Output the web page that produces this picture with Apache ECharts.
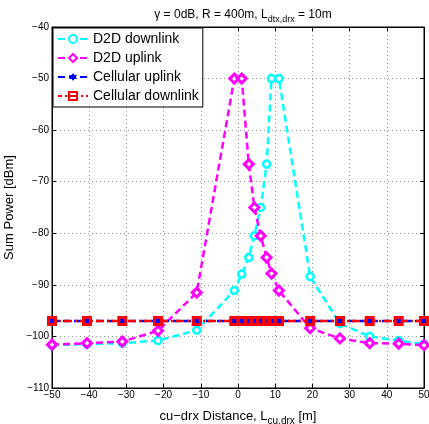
<!DOCTYPE html>
<html>
<head>
<meta charset="utf-8">
<script src="https://cdn.jsdelivr.net/npm/echarts@6/dist/echarts.min.js"></script>
<style>
  html, body { margin: 0; padding: 0; background: #fff; }
  #main { width: 429px; height: 424px; }
</style>
</head>
<body>
<div id="main"></div>
<script>
// distance cu-drx [m]
var xs = [-50, -40.6, -31.1, -21.5, -11.1, -1, 1, 2.9, 4.4, 6.1, 7.7, 9, 11, 19.4, 27.4, 35.4, 43.2, 50];
var d2dDown = [-101.7, -101.5, -101.3, -100.8, -98.8, -91.1, -87.9, -84.7, -80.5, -75, -66.6, -50, -50, -88.4, -97.5, -100, -100.8, -101.5];
var d2dUp = [-101.6, -101.3, -101.0, -98.9, -91.5, -50, -50, -66.6, -75, -80.5, -84.7, -87.8, -91.1, -98.4, -100.4, -101.3, -101.4, -101.7];
var cellUp = [-97, -97, -97, -97, -97, -97, -97, -97, -97, -97, -97, -97, -97, -97, -97, -97, -97, -97];
var cellDown = [-97, -97, -97, -97, -97, -97, -97, -97, -97, -97, -97, -97, -97, -97, -97, -97, -97, -97];
var xTicks = [-50, -40, -30, -20, -10, 0, 10, 20, 30, 40, 50];
var yTicks = [-110, -100, -90, -80, -70, -60, -50, -40];

function pairs(v) {
  var out = [];
  for (var i = 0; i < xs.length; i++) out.push([xs[i], v[i]]);
  return out;
}
function minus(v) { return String(v).replace('-', '\u2212'); }

var star = 'path://M10,0L12.887,5L18.66,5L15.77,10L18.66,15L12.887,15L10,20L7.113,15L1.34,15L4.23,10L1.34,5L7.113,5Z';
var font = 'Liberation Sans, Arial, sans-serif';

var chart = echarts.init(document.getElementById('main'));
var option = {
  animation: false,
  textStyle: { fontFamily: font },
  title: {
    left: 238, textAlign: 'center', top: 1,
    text: '{a|\u03b3 = 0dB, R = 400m, L}{s|dtx,drx}{a| = 10m}',
    textStyle: {
      fontWeight: 'normal',
      rich: {
        a: { fontSize: 12, color: '#000', fontFamily: font, fontWeight: 'normal' },
        s: { fontSize: 9, color: '#000', fontFamily: font, fontWeight: 'normal', padding: [9, 0, 0, 0] }
      }
    }
  },
  grid: { left: 52, right: 5, top: 27, bottom: 36, show: true, borderColor: '#000', borderWidth: 1, outerBoundsMode: 'none', containLabel: false },
  legend: {
    orient: 'vertical', left: 53, top: 28, itemGap: 5, itemWidth: 30, itemHeight: 10,
    backgroundColor: '#fff', borderColor: '#000', borderWidth: 1, borderRadius: 0,
    padding: [4, 4, 4, 4],
    textStyle: { fontSize: 14, color: '#000', fontFamily: font },
    data: ['D2D downlink', 'D2D uplink', 'Cellular uplink', 'Cellular downlink']
  },
  xAxis: [{
    type: 'value', min: -50, max: 50, interval: 10,
    name: '{a|cu\u2212drx Distance, L}{s|cu,drx}{a| [m]}',
    nameLocation: 'middle', nameGap: 18,
    nameTextStyle: {
      rich: {
        a: { fontSize: 13, color: '#000', fontFamily: font },
        s: { fontSize: 10, color: '#000', fontFamily: font, padding: [10, 0, 0, 0] }
      }
    },
    axisLine: { show: true, onZero: false, lineStyle: { color: '#000', width: 1 } },
    axisTick: { inside: true, length: 4, lineStyle: { color: '#000' } },
    axisLabel: { fontSize: 10, color: '#000', margin: 2, formatter: minus },
    splitLine: { show: true, lineStyle: { color: '#999', type: [1, 3], width: 1 } }
  }, {
    type: 'value', position: 'top', min: -50, max: 50, interval: 10,
    axisLine: { show: true, onZero: false, lineStyle: { color: '#000' } },
    axisTick: { inside: true, length: 4, lineStyle: { color: '#000' } },
    axisLabel: { show: false }, splitLine: { show: false }
  }],
  yAxis: [{
    type: 'value', min: -110, max: -40, interval: 10,
    name: 'Sum Power [dBm]', nameLocation: 'middle', nameGap: 27, nameRotate: 90,
    nameTextStyle: { fontSize: 13, color: '#000', fontFamily: font },
    axisLine: { show: true, onZero: false, lineStyle: { color: '#000', width: 1 } },
    axisTick: { inside: true, length: 4, lineStyle: { color: '#000' } },
    axisLabel: { fontSize: 10, color: '#000', margin: 3, formatter: minus },
    splitLine: { show: true, lineStyle: { color: '#999', type: [1, 3], width: 1 } }
  }, {
    type: 'value', position: 'right', min: -110, max: -40, interval: 10,
    axisLine: { show: true, onZero: false, lineStyle: { color: '#000' } },
    axisTick: { inside: true, length: 4, lineStyle: { color: '#000' } },
    axisLabel: { show: false }, splitLine: { show: false }
  }],
  series: [{
    name: 'D2D downlink', type: 'line', data: pairs(d2dDown),
    symbol: 'circle', symbolSize: 7,
    lineStyle: { color: '#00ffff', width: 2.5, type: [7, 4] },
    itemStyle: { color: '#fff', borderColor: '#00ffff', borderWidth: 2.5 }
  }, {
    name: 'D2D uplink', type: 'line', data: pairs(d2dUp),
    symbol: 'diamond', symbolSize: 9,
    lineStyle: { color: '#ff00ff', width: 2.5, type: [7, 4] },
    itemStyle: { color: '#fff', borderColor: '#ff00ff', borderWidth: 3 }
  }, {
    name: 'Cellular uplink', type: 'line', data: pairs(cellUp),
    symbol: star, symbolSize: 9,
    lineStyle: { color: '#0000ff', width: 2.5, type: [7, 4] },
    itemStyle: { color: '#0000ff' }
  }, {
    name: 'Cellular downlink', type: 'line', data: pairs(cellDown),
    symbol: 'rect', symbolSize: 7,
    lineStyle: { color: '#ff0000', width: 2.5, type: [8, 3, 2, 3], dashOffset: 4 },
    itemStyle: { color: 'rgba(255,255,255,0)', borderColor: '#ff0000', borderWidth: 3 }
  }]
};
chart.setOption(option);
</script>
</body>
</html>
